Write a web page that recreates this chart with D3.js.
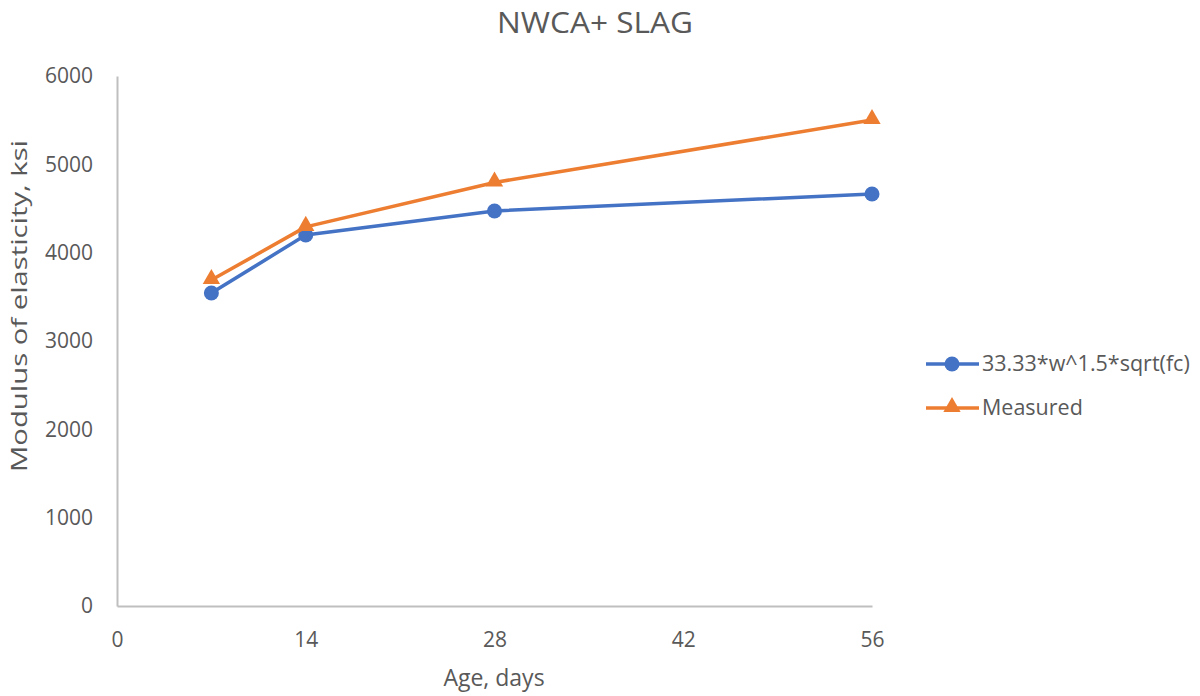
<!DOCTYPE html>
<html>
<head>
<meta charset="utf-8">
<script src="https://cdn.jsdelivr.net/npm/d3@7"></script>
<style>
  body { margin: 0; background: #fff; }
  svg { display: block; font-family: "Open Sans", sans-serif; }
</style>
</head>
<body>
<svg></svg>
<script>
const ages = [7, 14, 28, 56];
const predicted = [3543, 4200, 4472, 4664];
const measured = [3690, 4292, 4795, 5502];
const seriesNames = ["33.33*w^1.5*sqrt(fc)", "Measured"];
const xTicks = [0, 14, 28, 42, 56];
const yTicks = [0, 1000, 2000, 3000, 4000, 5000, 6000];

const width = 1200, height = 696;
const svg = d3.select("svg").attr("width", width).attr("height", height);

const x = d3.scaleLinear().domain([0, 56]).range([117, 872]);
const y = d3.scaleLinear().domain([0, 6000]).range([606, 76]);
const textColor = "#595959";
const colors = ["#4472c4", "#ed7d31"];

// title
svg.append("text")
    .attr("x", 595).attr("y", 33)
    .attr("text-anchor", "middle")
    .attr("font-size", 29)
    .attr("textLength", 196)
    .attr("lengthAdjust", "spacingAndGlyphs")
    .attr("fill", textColor)
    .text("NWCA+ SLAG");

// axes
const xAxis = svg.append("g")
    .attr("transform", `translate(0,${y(0)})`)
    .call(d3.axisBottom(x).tickValues(xTicks).tickSize(0).tickPadding(26));
const yAxis = svg.append("g")
    .attr("transform", `translate(${x(0)},0)`)
    .call(d3.axisLeft(y).tickValues(yTicks).tickFormat(d3.format("d")).tickSize(0).tickPadding(24));

[xAxis, yAxis].forEach(g => {
    g.select(".domain").attr("stroke", "#bfbfbf").attr("stroke-width", 2);
    g.selectAll("text").attr("fill", textColor).attr("font-size", 21).attr("font-family", "'Open Sans', sans-serif");
});

// axis titles
svg.append("text")
    .attr("x", 494).attr("y", 686)
    .attr("text-anchor", "middle")
    .attr("font-size", 23)
    .attr("fill", textColor)
    .text("Age, days");
svg.append("text")
    .attr("transform", "translate(27,306) rotate(-90)")
    .attr("text-anchor", "middle")
    .attr("font-size", 21)
    .attr("textLength", 332)
    .attr("lengthAdjust", "spacingAndGlyphs")
    .attr("fill", textColor)
    .text("Modulus of elasticity, ksi");

const line = d3.line().x(d => x(d[0])).y(d => y(d[1]));
const allSeries = [predicted, measured];
const tri = d3.symbol().type(d3.symbolTriangle).size(130);

allSeries.forEach((vals, i) => {
    const pts = ages.map((a, j) => [a, vals[j]]);
    svg.append("path")
        .datum(pts)
        .attr("fill", "none")
        .attr("stroke", colors[i])
        .attr("stroke-width", 3.5)
        .attr("stroke-linejoin", "round")
        .attr("d", line);
    if (i === 0) {
        svg.selectAll(".pt" + i).data(pts).enter().append("circle")
            .attr("cx", d => x(d[0])).attr("cy", d => y(d[1]))
            .attr("r", 7.5).attr("fill", colors[i]);
    } else {
        svg.selectAll(".pt" + i).data(pts).enter().append("path")
            .attr("transform", d => `translate(${x(d[0])},${y(d[1]) - 1})`)
            .attr("d", tri).attr("fill", colors[i]);
    }
});

// legend
const legend = svg.append("g");
seriesNames.forEach((name, i) => {
    const ly = 364 + i * 44;
    legend.append("line")
        .attr("x1", 926).attr("x2", 979).attr("y1", ly).attr("y2", ly)
        .attr("stroke", colors[i]).attr("stroke-width", 3.5);
    if (i === 0) {
        legend.append("circle").attr("cx", 952).attr("cy", ly).attr("r", 7.5).attr("fill", colors[i]);
    } else {
        legend.append("path").attr("transform", `translate(952,${ly - 1})`).attr("d", tri).attr("fill", colors[i]);
    }
    legend.append("text")
        .attr("x", 982).attr("y", ly + 7)
        .attr("font-size", 21.5)
        .attr("fill", textColor)
        .text(name);
});
</script>
</body>
</html>
